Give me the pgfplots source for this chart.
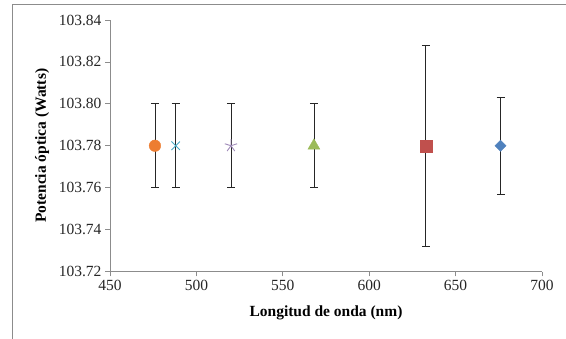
\documentclass[border=0pt]{standalone}
\usepackage{fontspec}
\setmainfont{Liberation Serif}
\usepackage{pgfplots}
\pgfplotsset{compat=1.18}
\definecolor{axgray}{HTML}{8C8C8C}
\definecolor{cOrange}{HTML}{ED7D31}
\definecolor{cCyan}{HTML}{4BACC6}
\definecolor{cPurple}{HTML}{8064A2}
\definecolor{cGreen}{HTML}{9BBB59}
\definecolor{cRed}{HTML}{C0504D}
\definecolor{cBlue}{HTML}{4F81BD}
\begin{document}
\begin{tikzpicture}
\path[use as bounding box] (0,0) rectangle (566bp,339bp);
\draw[axgray, line width=0.8bp] (12bp,0) -- (12bp,335bp) -- (566bp,335bp);
\begin{axis}[
  at={(110bp,67.5bp)}, anchor=south west,
  scale only axis, width=432bp, height=251.5bp,
  xmin=450, xmax=700, ymin=103.72, ymax=103.84,
  xtick={450,500,...,700},
  ytick={103.72,103.74,...,103.84},
  yticklabel style={/pgf/number format/.cd, fixed, fixed zerofill, precision=2},
  /pgf/number format/assume math mode=true,
  tick label style={font=\rmfamily\fontsize{15.5bp}{18bp}\selectfont, text=black!85},
  axis x line*=bottom, axis y line*=left,
  axis line style={axgray, line width=0.8bp},
  tick style={axgray, line width=0.8bp},
  tick align=outside, major tick length=5bp,
  xlabel={\textbf{Longitud de onda (nm)}},
  ylabel={\textbf{Potencia óptica (Watts)}},
  label style={font=\rmfamily\fontsize{15.5bp}{18bp}\selectfont},
  xlabel style={at={(rel axis cs:0.5,-0.165)}, anchor=center},
  ylabel style={at={(rel axis cs:-0.157,0.5)}, anchor=center},
  error bars/y dir=both, error bars/y explicit,
  error bars/error bar style={black!85, line width=0.8bp},
  error bars/error mark options={black!85, line width=0.8bp, mark size=4bp, rotate=90},
  clip=false,
]
\addplot[only marks, mark=*, mark size=5.8bp, cOrange, mark options={fill=cOrange, draw=cOrange}]
  coordinates {(476,103.78) +- (0,0.02)};
\addplot[only marks, mark=x, mark size=6bp, cCyan, mark options={line width=0.9bp}]
  coordinates {(488,103.78) +- (0,0.02)};
\addplot[only marks, mark=star, mark size=6.5bp, cPurple!75, mark options={line width=0.9bp}]
  coordinates {(520,103.78) +- (0,0.02)};
\addplot[only marks, mark=triangle*, mark size=6.9bp, cGreen, mark options={fill=cGreen, draw=cGreen}]
  coordinates {(568,103.78) +- (0,0.02)};
\addplot[only marks, mark=square*, mark size=6bp, cRed, mark options={fill=cRed, draw=cRed}]
  coordinates {(632.8,103.78) +- (0,0.048)};
\addplot[only marks, mark=square*, mark size=3.9bp, cBlue, mark options={fill=cBlue, draw=cBlue, rotate=45}]
  coordinates {(676,103.78) +- (0,0.023)};
\end{axis}
\end{tikzpicture}
\end{document}
